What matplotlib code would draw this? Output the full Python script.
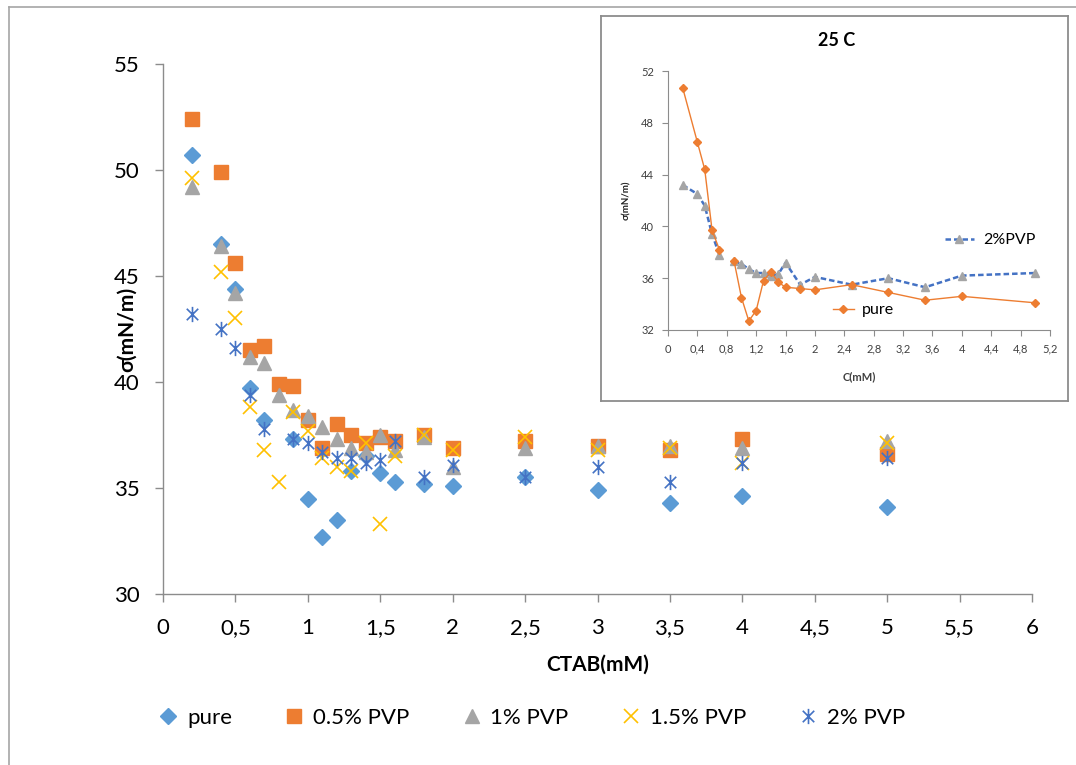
import numpy as np
import matplotlib
matplotlib.use("Agg")
import matplotlib.pyplot as plt
from matplotlib.path import Path
from matplotlib.lines import Line2D

plt.rcParams["font.family"] = ["Lato", "DejaVu Sans"]

# CTAB concentration (mM); 0.8 missing for pure and 2% PVP
conc = [0.2, 0.4, 0.5, 0.6, 0.7, 0.8, 0.9, 1.0, 1.1, 1.2, 1.3, 1.4, 1.5, 1.6,
        1.8, 2.0, 2.5, 3.0, 3.5, 4.0, 5.0]
nan = np.nan
pure = [50.7, 46.5, 44.4, 39.7, 38.2, nan, 37.3, 34.5, 32.7, 33.5, 35.8, 36.5,
        35.7, 35.3, 35.2, 35.1, 35.5, 34.9, 34.3, 34.6, 34.1]
pvp05 = [52.4, 49.9, 45.6, 41.5, 41.7, 39.9, 39.8, 38.2, 36.9, 38.0, 37.5, 37.1,
         37.4, 37.2, 37.5, 36.9, 37.2, 37.0, 36.8, 37.3, 36.6]
pvp1 = [49.2, 46.4, 44.2, 41.2, 40.9, 39.4, 38.7, 38.4, 37.9, 37.3, 36.9, 36.7,
        37.5, 36.8, 37.4, 36.0, 36.9, 37.0, 37.0, 36.9, 37.2]
pvp15 = [49.6, 45.2, 43.0, 38.8, 36.8, 35.3, 38.6, 37.7, 36.4, 36.0, 35.8, 37.1,
         33.3, 36.5, 37.5, 36.8, 37.4, 36.8, 36.9, 36.2, 37.1]
pvp2 = [43.2, 42.5, 41.6, 39.4, 37.8, nan, 37.3, 37.1, 36.7, 36.4, 36.4, 36.2,
        36.3, 37.2, 35.5, 36.1, 35.5, 36.0, 35.3, 36.2, 36.4]

series_labels = ["pure", "0.5% PVP", "1% PVP", "1.5% PVP", "2% PVP"]

main_xticks = [0, 0.5, 1, 1.5, 2, 2.5, 3, 3.5, 4, 4.5, 5, 5.5, 6]
main_xticklabels = ["0", "0,5", "1", "1,5", "2", "2,5", "3", "3,5", "4",
                    "4,5", "5", "5,5", "6"]
main_yticks = [30, 35, 40, 45, 50, 55]
inset_xticks = [0, 0.4, 0.8, 1.2, 1.6, 2, 2.4, 2.8, 3.2, 3.6, 4, 4.4, 4.8, 5.2]
inset_xticklabels = ["0", "0,4", "0,8", "1,2", "1,6", "2", "2,4", "2,8", "3,2",
                     "3,6", "4", "4,4", "4,8", "5,2"]
inset_yticks = [32, 36, 40, 44, 48, 52]

c_blue = "#5B9BD5"
c_orange = "#ED7D31"
c_gray = "#A5A5A5"
c_yellow = "#FFC000"
c_dblue = "#4472C4"
axis_gray = "#8C8C8C"

# Excel-like star marker: x plus vertical bar
star = Path([(0, -1), (0, 1), (-0.75, -0.75), (0.75, 0.75), (-0.75, 0.75), (0.75, -0.75)],
            [Path.MOVETO, Path.LINETO, Path.MOVETO, Path.LINETO, Path.MOVETO, Path.LINETO])

W, H = 1076, 765
fig = plt.figure(figsize=(W / 100, H / 100), dpi=100)

# outer chart border (left and top visible)
fig.add_artist(Line2D([9 / W, 9 / W], [0, 1 - 7 / H], color="#A6A6A6", lw=1.2))
fig.add_artist(Line2D([9 / W, 1], [1 - 7 / H, 1 - 7 / H], color="#A6A6A6", lw=1.2))

ax = fig.add_axes([163 / W, 1 - 594 / H, (1032 - 163) / W, (594 - 64) / H])
ax.plot(conc, pure, ls="none", marker="D", ms=7.8, color=c_blue, label=series_labels[0])
ax.plot(conc, pvp05, ls="none", marker="s", ms=10.5, color=c_orange, label=series_labels[1])
ax.plot(conc, pvp1, ls="none", marker="^", ms=10.5, color=c_gray, label=series_labels[2])
ax.plot(conc, pvp15, ls="none", marker="x", ms=10, mew=1.2, color=c_yellow, label=series_labels[3])
ax.plot(conc, pvp2, ls="none", marker=star, ms=11, mew=1.2, color=c_dblue,
        markerfacecolor="none", label=series_labels[4])

ax.set_xlim(0, 6)
ax.set_ylim(30, 55)
ax.set_xticks(main_xticks)
ax.set_xticklabels(main_xticklabels)
ax.set_yticks(main_yticks)
for s in ["top", "right"]:
    ax.spines[s].set_visible(False)
for s in ["left", "bottom"]:
    ax.spines[s].set_color(axis_gray)
    ax.spines[s].set_linewidth(1.0)
ax.tick_params(axis="both", direction="out", length=6, width=1.0, color=axis_gray,
               labelsize=16, pad=11)
ax.set_xlabel("CTAB(mM)", fontsize=15, fontweight="bold")
ax.xaxis.set_label_coords(0.5, (594 - 665) / 530)
ax.xaxis.label.set_va("center")
ax.set_ylabel("σ(mN/m)", fontsize=15, fontweight="bold")
ax.yaxis.set_label_coords((127 - 163) / 869, 0.5)
ax.yaxis.label.set_va("center")

fig.legend(loc="center left", bbox_to_anchor=(157 / W, 1 - 718 / H), ncol=5,
           frameon=False, fontsize=16, handlelength=1.0, handletextpad=0.35,
           columnspacing=2.3, borderpad=0, borderaxespad=0)

# inset frame
frame = fig.add_axes([601 / W, 1 - 401 / H, (1068 - 601) / W, (401 - 16) / H])
frame.set_xticks([])
frame.set_yticks([])
frame.set_facecolor("white")
for s in frame.spines.values():
    s.set_color(axis_gray)
    s.set_linewidth(1.3)
frame.set_zorder(2)

axi = fig.add_axes([668 / W, 1 - 330 / H, (1050 - 668) / W, (330 - 71) / H])
axi.set_zorder(3)
axi.patch.set_alpha(0)
l_pvp, = axi.plot(conc, pvp2, color=c_dblue, ls=(0, (2.2, 1.2)), lw=1.8, marker="^",
                  ms=6, mfc=c_gray, mec=c_gray, label="2%PVP")
l_pure, = axi.plot(conc, pure, color=c_orange, lw=1.0, marker="D", ms=3.8,
                   mfc=c_orange, mec=c_orange, label="pure")
axi.set_xlim(0, 5.2)
axi.set_ylim(32, 52)
axi.set_xticks(inset_xticks)
axi.set_xticklabels(inset_xticklabels)
axi.set_yticks(inset_yticks)
for s in ["top", "right"]:
    axi.spines[s].set_visible(False)
for s in ["left", "bottom"]:
    axi.spines[s].set_color(axis_gray)
    axi.spines[s].set_linewidth(0.8)
axi.tick_params(axis="both", direction="out", length=4, width=0.8, color=axis_gray,
                labelsize=8, labelcolor="#404040", pad=6)
axi.set_xlabel("C(mM)", fontsize=8, fontweight="bold", color="#404040")
axi.xaxis.set_label_coords(0.5, (330 - 377) / 259)
axi.xaxis.label.set_va("center")
axi.set_ylabel("σ(mN/m)", fontsize=7, fontweight="bold", color="#202020")
axi.yaxis.set_label_coords((627 - 668) / 382, 0.5)
axi.yaxis.label.set_va("center")
fig.text(837 / W, 1 - 40 / H, "25 C", ha="center", va="center", fontsize=13,
         fontweight="bold", zorder=5)

leg1 = axi.legend(handles=[l_pvp], loc="center left", bbox_to_anchor=(945 / W, 1 - 240 / H),
                  bbox_transform=fig.transFigure, frameon=False, fontsize=11.5,
                  handlelength=1.8, handletextpad=0.6, borderpad=0, borderaxespad=0,
                  numpoints=1)
axi.add_artist(leg1)
axi.legend(handles=[l_pure], loc="center left", bbox_to_anchor=(833 / W, 1 - 310 / H),
           bbox_transform=fig.transFigure, frameon=False, fontsize=11.5,
           handlelength=1.3, handletextpad=0.5, borderpad=0, borderaxespad=0,
           numpoints=1)

fig.savefig("out.png", dpi=100)
